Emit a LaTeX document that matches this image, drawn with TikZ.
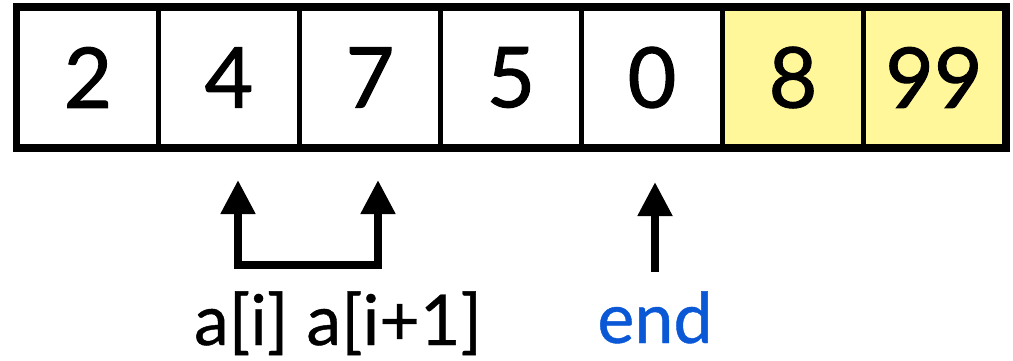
\documentclass[tikz,border=0pt]{standalone}
\usepackage{fontspec}
\setmainfont{Lato}
\newfontfamily\digitfont{Lato}[FakeBold=1.2]
\newfontfamily\labelfont{Lato}[FakeBold=0.6]
\usetikzlibrary{arrows.meta}
\definecolor{cellyellow}{RGB}{255,247,153}
\definecolor{endblue}{RGB}{10,88,214}
\tikzset{
  cell/.style={draw=black, line width=5pt, minimum width=141pt, minimum height=138pt,
    inner sep=0pt, font=\digitfont\fontsize{84}{90}\selectfont, anchor=center},
  hot/.style={fill=cellyellow},
  ptr/.style={line width=8pt, line join=miter, -{Triangle[length=34pt,width=33pt]}},
  lbl/.style={font=\labelfont\fontsize{70}{80}\selectfont, anchor=base, inner sep=0pt}
}
\begin{document}
\begin{tikzpicture}[x=1pt,y=-1pt]
\useasboundingbox (0,0) rectangle (1013,361);
\node[cell] (c1) at (88,77.5) {2};
\node[cell] (c2) at (229,77.5) {4};
\node[cell] (c3) at (370,77.5) {7};
\node[cell] (c4) at (511,77.5) {5};
\node[cell] (c5) at (652,77.5) {0};
\node[cell,hot] (c6) at (793,77.5) {8};
\node[cell,hot] (c7) at (934,77.5) {99};
\draw[line width=5pt] (c1.north west) rectangle (c7.south east);
\coordinate (p1) at (238,180);
\coordinate (q1) at (238,265);
\coordinate (q2) at (378,265);
\coordinate (p2) at (378,180);
\coordinate (e1) at (655,182);
\coordinate (e0) at (655,272);
\draw[ptr, {Triangle[length=34pt,width=33pt]}-{Triangle[length=34pt,width=33pt]}] (p1) -- (q1) -- (q2) -- (p2);
\draw[ptr] (e0) -- (e1);
\node[lbl] (li) at (338,345) {a[i] a[i+1]};
\node[lbl, text=endblue] (le) at (655,343) {end};
\end{tikzpicture}
\end{document}
